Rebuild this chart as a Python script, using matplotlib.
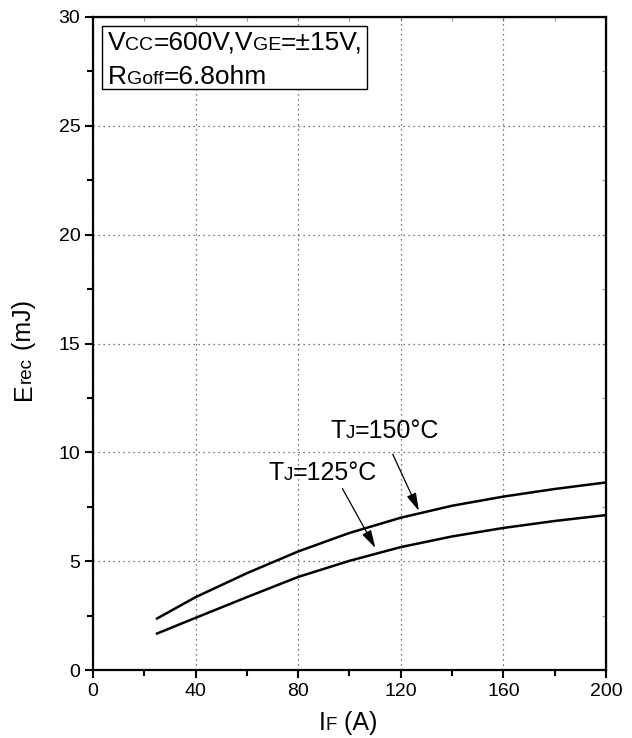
import matplotlib
matplotlib.use("Agg")
import matplotlib.pyplot as plt
import matplotlib.transforms as mtransforms
from matplotlib.font_manager import FontProperties
from matplotlib.patches import Rectangle

FONT = ["Liberation Sans", "DejaVu Sans"]

# forward current (A)
i_f = [25, 40, 60, 80, 100, 120, 140, 160, 180, 200]
# reverse recovery energy (mJ)
erec_150 = [2.37, 3.35, 4.45, 5.45, 6.30, 7.00, 7.55, 7.97, 8.32, 8.62]
erec_125 = [1.68, 2.40, 3.35, 4.28, 5.02, 5.65, 6.14, 6.53, 6.85, 7.12]

x_ticks = [0, 40, 80, 120, 160, 200]
y_ticks = [0, 5, 10, 15, 20, 25, 30]

# curve labels: (text pieces, label position, arrow start, arrow end)
label_150 = ([("T", 18), ("J", 13.5), ("=150°C", 18)], (113.8, 10.66), (116.4, 10.03), (127.5, 7.2))
label_125 = ([("T", 18), ("J", 13.5), ("=125°C", 18)], (89.5, 8.73), (96.7, 8.45), (110.6, 5.5))

cond_line1 = [("V", 19), ("CC", 14), ("=600V,V", 19), ("GE", 14), ("=±15V,", 19)]
cond_line2 = [("R", 19), ("Goff", 14), ("=6.8ohm", 19)]


def rich_text(ax, x, y, pieces, transform, rotation=0, ha="left"):
    # draw text made of pieces with different sizes on a shared baseline
    fig = ax.figure
    renderer = fig.canvas.get_renderer()
    widths = []
    for s, size in pieces:
        w, h, d = renderer.get_text_width_height_descent(
            s, FontProperties(family=FONT, size=size), ismath=False)
        widths.append(w * 72 / fig.dpi)
    off = 0 if ha == "left" else -sum(widths) / 2
    for (s, size), w in zip(pieces, widths):
        if rotation == 90:
            tr = mtransforms.offset_copy(transform, fig=fig, x=0, y=off, units="points")
        else:
            tr = mtransforms.offset_copy(transform, fig=fig, x=off, y=0, units="points")
        ax.text(x, y, s, transform=tr, fontsize=size, family=FONT,
                rotation=rotation, rotation_mode="anchor",
                ha="left", va="baseline", clip_on=False, zorder=4)
        off += w


fig = plt.figure(figsize=(6.32, 7.38), dpi=100)
ax = fig.add_axes([0.147, 0.092, 0.812, 0.885])

ax.plot(i_f, erec_150, color="black", lw=1.8)
ax.plot(i_f, erec_125, color="black", lw=1.8)

ax.set_xlim(0, 200)
ax.set_ylim(0, 30)
ax.set_xticks(x_ticks)
ax.set_yticks(y_ticks)
ax.set_xticks([20, 60, 100, 140, 180], minor=True)
ax.set_yticks([2.5, 7.5, 12.5, 17.5, 22.5, 27.5], minor=True)
ax.set_xticklabels([str(v) for v in x_ticks], family=FONT)
ax.set_yticklabels([str(v) for v in y_ticks], family=FONT)
ax.tick_params(which="major", direction="out", length=6, width=1.5, labelsize=14, pad=3)
ax.tick_params(which="minor", direction="out", length=4, width=1.5)
ax.grid(True, which="major", linestyle=(0, (1, 3)), color="0.3", lw=0.9)

for side in ["left", "right", "top", "bottom"]:
    ax.spines[side].set_linewidth(1.6)

# faint inward ticks on top and right
top = ax.secondary_xaxis("top")
top.set_xticks(x_ticks)
top.set_xticks([20, 60, 100, 140, 180], minor=True)
top.tick_params(which="both", direction="in", length=3, width=0.8, color="0.6", labeltop=False)
right = ax.secondary_yaxis("right")
right.set_yticks(y_ticks)
right.set_yticks([2.5, 7.5, 12.5, 17.5, 22.5, 27.5], minor=True)
right.tick_params(which="both", direction="in", length=3, width=0.8, color="0.6", labelright=False)

for pieces, pos, start, end in [label_150, label_125]:
    rich_text(ax, pos[0], pos[1], pieces, ax.transData, ha="center")
    ax.annotate("", xy=end, xytext=start,
                arrowprops=dict(arrowstyle="-|>,head_length=0.9,head_width=0.25",
                                color="black", lw=0.9, mutation_scale=12))

# condition box
ax.add_patch(Rectangle((0.0175, 0.890), 0.5165, 0.096, transform=ax.transAxes,
                       facecolor="white", edgecolor="black", lw=1.0, zorder=3))
rich_text(ax, 0.029, 0.9495, cond_line1, ax.transAxes)
rich_text(ax, 0.029, 0.8975, cond_line2, ax.transAxes)

# axis labels
rich_text(ax, 0.497, -0.092, [("I", 18), ("F", 13.5), (" (A)", 18)], ax.transAxes, ha="center")
rich_text(ax, -0.121, 0.49, [("E", 18), ("rec", 13.5), (" (mJ)", 18)], ax.transAxes,
          rotation=90, ha="center")

fig.savefig("out.png", dpi=100)
